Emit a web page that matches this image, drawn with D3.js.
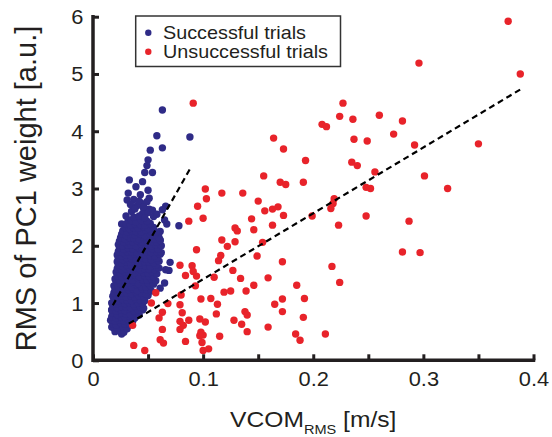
<!DOCTYPE html>
<html><head><meta charset="utf-8">
<script src="https://cdn.jsdelivr.net/npm/d3@7"></script>
<style>
html,body{margin:0;padding:0;background:#fff;}
text{font-family:"Liberation Sans",Arial,Helvetica,sans-serif;fill:#231f20;}
</style></head>
<body><svg id="c" width="552" height="437"></svg>
<script>
// ---- data ----
const xTickValues = [0,0.05,0.1,0.15,0.2,0.25,0.3,0.35,0.4];
const xTickLabels = ["0","","0.1","","0.2","","0.3","","0.4"];
const yTickValues = [0,1,2,3,4,5,6];
const yTickLabels = ["0","1","2","3","4","5","6"];
const seriesNames = ["Successful trials","Unsuccessful trials"];
const seriesColors = ["#2f2b87","#e8232a"];

const successful = [
 [0.063,4.37],[0.058,3.92],[0.088,3.90],[0.063,3.71],[0.052,3.67],[0.050,3.50],[0.049,3.40],
 [0.047,3.28],[0.054,3.28],[0.033,3.15],[0.045,3.12],[0.039,3.03],[0.050,2.97],[0.032,2.92],
 [0.043,2.89],[0.037,2.81],[0.051,2.83],[0.031,2.80],[0.044,2.74],[0.049,2.77],[0.066,2.69],
 [0.063,2.63],[0.046,2.65],[0.051,2.64],[0.030,2.52],[0.032,2.45],[0.055,2.51],[0.065,2.45],
 [0.026,2.38],[0.067,2.38],[0.078,2.35],[0.061,2.25],[0.061,2.10],[0.070,1.71],[0.066,1.58],
 [0.069,1.57],[0.065,1.35],[0.061,1.26],[0.045,0.88],[0.019,0.56],[0.026,0.46],[0.017,0.88],
 [0.035,2.60],[0.040,2.70],[0.045,2.56],[0.050,2.58],[0.042,2.78],[0.054,2.62],[0.034,2.72],
 [0.058,2.55],[0.038,2.64],[0.046,2.68],
 [0.020,0.50],[0.024,0.52],[0.028,0.49],
 [0.017,0.58],[0.022,0.56],[0.027,0.58],[0.031,0.55],
 [0.018,0.64],[0.021,0.62],[0.025,0.65],[0.029,0.63],[0.034,0.62],
 [0.016,0.70],[0.020,0.68],[0.024,0.70],[0.028,0.69],[0.032,0.71],[0.036,0.68],
 [0.017,0.76],[0.021,0.74],[0.025,0.76],[0.029,0.75],[0.033,0.77],[0.038,0.74],
 [0.018,0.82],[0.022,0.80],[0.026,0.82],[0.030,0.81],[0.034,0.80],[0.039,0.83],[0.042,0.79],
 [0.017,0.88],[0.021,0.86],[0.025,0.88],[0.029,0.87],[0.033,0.89],[0.037,0.86],[0.041,0.88],
 [0.018,0.94],[0.022,0.92],[0.026,0.94],[0.030,0.93],[0.034,0.92],[0.038,0.95],[0.043,0.93],[0.046,0.91],
 [0.017,1.00],[0.021,0.98],[0.025,1.00],[0.029,0.99],[0.033,1.01],[0.037,0.98],[0.041,1.00],[0.045,0.99],
 [0.019,1.06],[0.023,1.04],[0.027,1.06],[0.031,1.05],[0.035,1.04],[0.039,1.07],[0.043,1.05],[0.047,1.04],
 [0.018,1.12],[0.022,1.10],[0.026,1.12],[0.030,1.11],[0.034,1.13],[0.038,1.10],[0.042,1.12],[0.046,1.11],[0.050,1.13],
 [0.019,1.18],[0.023,1.16],[0.027,1.18],[0.031,1.17],[0.035,1.16],[0.039,1.19],[0.044,1.17],[0.048,1.16],
 [0.020,1.24],[0.024,1.22],[0.028,1.24],[0.032,1.23],[0.036,1.25],[0.040,1.22],[0.045,1.24],[0.049,1.23],[0.053,1.21],
 [0.019,1.30],[0.023,1.28],[0.027,1.30],[0.031,1.29],[0.035,1.28],[0.040,1.31],[0.044,1.29],[0.048,1.28],[0.052,1.30],
 [0.021,1.36],[0.025,1.34],[0.029,1.36],[0.033,1.35],[0.037,1.37],[0.041,1.34],[0.046,1.36],[0.050,1.35],[0.055,1.33],
 [0.020,1.42],[0.024,1.40],[0.028,1.42],[0.032,1.41],[0.036,1.40],[0.041,1.43],[0.045,1.41],[0.049,1.40],[0.053,1.42],[0.057,1.39],
 [0.022,1.48],[0.026,1.46],[0.030,1.48],[0.034,1.47],[0.038,1.49],[0.042,1.46],[0.047,1.48],[0.051,1.47],[0.055,1.46],
 [0.021,1.54],[0.025,1.52],[0.029,1.54],[0.033,1.53],[0.037,1.52],[0.042,1.55],[0.046,1.53],[0.050,1.52],[0.054,1.54],[0.058,1.51],
 [0.022,1.60],[0.026,1.58],[0.030,1.60],[0.034,1.59],[0.038,1.61],[0.043,1.58],[0.047,1.60],[0.051,1.59],[0.056,1.58],[0.060,1.61],
 [0.023,1.66],[0.027,1.64],[0.031,1.66],[0.035,1.65],[0.039,1.64],[0.043,1.67],[0.048,1.65],[0.052,1.64],[0.057,1.66],
 [0.022,1.72],[0.026,1.70],[0.030,1.72],[0.034,1.71],[0.038,1.73],[0.042,1.70],[0.047,1.72],[0.051,1.71],[0.055,1.70],[0.060,1.73],
 [0.023,1.78],[0.027,1.76],[0.031,1.78],[0.035,1.77],[0.039,1.76],[0.044,1.79],[0.048,1.77],[0.053,1.76],[0.058,1.78],
 [0.022,1.84],[0.026,1.82],[0.030,1.84],[0.034,1.83],[0.038,1.85],[0.043,1.82],[0.047,1.84],[0.052,1.83],[0.056,1.82],[0.061,1.85],
 [0.023,1.90],[0.027,1.88],[0.031,1.90],[0.035,1.89],[0.040,1.88],[0.044,1.91],[0.049,1.89],[0.053,1.88],[0.058,1.90],[0.062,1.88],
 [0.024,1.96],[0.028,1.94],[0.032,1.96],[0.036,1.95],[0.041,1.97],[0.045,1.94],[0.050,1.96],[0.054,1.95],[0.059,1.94],
 [0.023,2.02],[0.027,2.00],[0.031,2.02],[0.035,2.01],[0.039,2.00],[0.044,2.03],[0.048,2.01],[0.053,2.00],[0.057,2.02],[0.062,2.00],
 [0.024,2.08],[0.028,2.06],[0.032,2.08],[0.036,2.07],[0.040,2.09],[0.045,2.06],[0.049,2.08],[0.054,2.07],[0.058,2.06],[0.061,2.09],
 [0.025,2.14],[0.029,2.12],[0.033,2.14],[0.037,2.13],[0.042,2.12],[0.046,2.15],[0.051,2.13],[0.055,2.12],[0.060,2.14],
 [0.026,2.20],[0.030,2.18],[0.034,2.20],[0.038,2.19],[0.043,2.21],[0.047,2.18],[0.052,2.20],[0.056,2.19],
 [0.027,2.26],[0.031,2.24],[0.035,2.26],[0.039,2.25],[0.044,2.24],[0.048,2.27],[0.053,2.25],[0.057,2.24],
 [0.029,2.32],[0.033,2.30],[0.037,2.32],[0.041,2.31],[0.046,2.33],[0.050,2.30],[0.055,2.32],
 [0.030,2.38],[0.034,2.36],[0.038,2.38],[0.043,2.37],[0.047,2.36],[0.052,2.39],
 [0.035,2.44],[0.039,2.42],[0.044,2.44],[0.049,2.43],
 [0.037,2.50],[0.042,2.52],[0.047,2.49]
];

const unsuccessful = [
 [0.377,5.92],[0.296,5.19],[0.388,5.00],[0.091,4.49],[0.227,4.49],[0.224,4.26],[0.236,4.21],
 [0.260,4.28],[0.281,4.18],[0.208,4.12],[0.212,4.08],[0.273,3.95],[0.164,3.88],[0.237,3.86],
 [0.249,3.83],[0.292,3.76],[0.350,3.78],[0.173,3.69],[0.193,3.49],[0.235,3.46],[0.240,3.40],
 [0.256,3.29],[0.301,3.22],[0.155,3.22],[0.170,3.11],[0.175,3.07],[0.191,3.11],[0.102,2.99],
 [0.117,2.92],[0.136,2.92],[0.248,3.02],[0.252,3.00],[0.322,3.00],[0.103,2.82],[0.150,2.78],
 [0.219,2.82],[0.095,2.69],[0.156,2.61],[0.163,2.64],[0.168,2.68],[0.173,2.53],[0.218,2.74],
 [0.216,2.65],[0.199,2.52],[0.248,2.52],[0.287,2.43],[0.100,2.48],[0.087,2.43],[0.144,2.47],
 [0.129,2.31],[0.131,2.26],[0.146,2.28],[0.163,2.36],[0.223,2.36],[0.117,2.10],[0.129,2.07],
 [0.122,1.99],[0.154,2.06],[0.094,1.93],[0.116,1.83],[0.114,1.74],[0.149,1.82],[0.172,1.72],
 [0.281,1.89],[0.297,1.88],[0.217,1.64],[0.090,1.65],[0.079,1.66],[0.127,1.57],[0.084,1.48],
 [0.094,1.47],[0.091,1.55],[0.110,1.45],[0.134,1.43],[0.159,1.44],[0.224,1.36],[0.093,1.30],
 [0.146,1.31],[0.185,1.31],[0.119,1.19],[0.125,1.21],[0.139,1.21],[0.080,1.14],[0.098,1.07],
 [0.107,1.08],[0.113,0.98],[0.172,1.07],[0.192,1.08],[0.165,0.98],[0.079,0.97],[0.081,0.83],
 [0.112,0.81],[0.138,0.85],[0.140,0.79],[0.172,0.85],[0.191,0.75],[0.097,0.72],[0.102,0.67],
 [0.087,0.70],[0.079,0.68],[0.082,0.61],[0.128,0.70],[0.135,0.63],[0.159,0.58],[0.098,0.49],
 [0.100,0.44],[0.097,0.43],[0.115,0.42],[0.140,0.50],[0.184,0.46],[0.188,0.35],[0.211,0.46],
 [0.084,0.33],[0.099,0.31],[0.100,0.17],[0.105,0.20],[0.057,1.18],[0.053,1.00],[0.068,0.99],
 [0.063,0.84],[0.060,0.74],[0.079,0.54],[0.063,0.54],[0.036,0.61],[0.061,0.36],[0.064,0.30],
 [0.037,0.26],[0.047,0.17]
];

// regression line end points [x, y]
const successFit = [[0.018,0.96],[0.088,3.34]];
const unsuccessFit = [[0.0325,0.64],[0.389,4.74]];

// ---- drawing ----
const W = 552, H = 437;
const svg = d3.select("#c");
svg.append("rect").attr("width",W).attr("height",H).attr("fill","#fff");

const x = d3.scaleLinear().domain([0,0.4]).range([93,533.5]);
const y = d3.scaleLinear().domain([0,6]).range([360.3,16.7]);
const axisColor = "#231f20";
const SX = 1.12; // horizontal text stretch

// points
const plot = svg.append("g");
plot.append("g").selectAll("circle").data(successful).join("circle")
  .attr("cx",d=>x(d[0])).attr("cy",d=>y(d[1])).attr("r",3.7).attr("fill",seriesColors[0]);
plot.append("g").selectAll("circle").data(unsuccessful).join("circle")
  .attr("cx",d=>x(d[0])).attr("cy",d=>y(d[1])).attr("r",3.7).attr("fill",seriesColors[1]);

// fit lines
const line = d3.line().x(d=>x(d[0])).y(d=>y(d[1]));
[successFit, unsuccessFit].forEach(f=>{
  plot.append("path").attr("d",line(f)).attr("fill","none")
    .attr("stroke","#000").attr("stroke-width",2.2).attr("stroke-dasharray","6,4");
});

// axes
const xAxis = d3.axisBottom(x).tickValues(xTickValues)
  .tickFormat((d,i)=>xTickLabels[i]).tickSizeInner(-6).tickSizeOuter(0).tickPadding(10);
const gx = svg.append("g").attr("transform",`translate(0,${y(0)})`).call(xAxis);
gx.select(".domain").remove();
gx.selectAll(".tick line").attr("stroke",axisColor).attr("stroke-width",3);
gx.selectAll(".tick text").attr("fill",axisColor).style("font-size","19.5px")
  .style("font-family",'"Liberation Sans",Arial,sans-serif')
  .attr("transform",`scale(${SX},1)`).attr("dy",null).attr("y",25.3);

const yAxis = d3.axisLeft(y).tickValues(yTickValues)
  .tickFormat((d,i)=>yTickLabels[i]).tickSizeInner(-6).tickSizeOuter(0).tickPadding(8);
const gy = svg.append("g").attr("transform",`translate(${x(0)},0)`).call(yAxis);
gy.select(".domain").remove();
gy.selectAll(".tick line").attr("stroke",axisColor).attr("stroke-width",3);
gy.selectAll(".tick text").attr("fill",axisColor).style("font-size","19.5px")
  .style("font-family",'"Liberation Sans",Arial,sans-serif')
  .attr("transform",`scale(${SX},1)`).attr("x",-8.5).attr("dy",null).attr("y",7);

svg.append("path")
  .attr("d",`M${x(0)},${y(6)}V${y(0)}H${x(0.4)}`)
  .attr("fill","none").attr("stroke",axisColor).attr("stroke-width",3.5)
  .attr("stroke-linecap","square");

// axis titles
const xt = svg.append("g").attr("transform",`translate(${(x(0)+x(0.4))/2},426.5) scale(${SX},1)`)
  .append("text").attr("text-anchor","middle").style("font-size","22px");
xt.append("tspan").text("VCOM");
xt.append("tspan").attr("dy",7).style("font-size","13px").text("RMS");
xt.append("tspan").attr("dy",-7).text(" [m/s]");

svg.append("text").attr("transform",`translate(36,${(y(0)+y(6))/2}) rotate(-90)`)
  .attr("text-anchor","middle").style("font-size","29px").text("RMS of PC1 weight [a.u.]");

// legend
const lg = svg.append("g");
lg.append("rect").attr("x",135.7).attr("y",16).attr("width",204.8).attr("height",50.5)
  .attr("fill","#fff").attr("stroke","#333").attr("stroke-width",1.5);
seriesNames.forEach((n,i)=>{
  lg.append("circle").attr("cx",148.3).attr("cy",32.7+i*19).attr("r",3.2).attr("fill",seriesColors[i]);
  lg.append("g").attr("transform",`translate(163,${39.3+i*19}) scale(1.1,1)`)
    .append("text").style("font-size","18px").text(n);
});
</script></body></html>
